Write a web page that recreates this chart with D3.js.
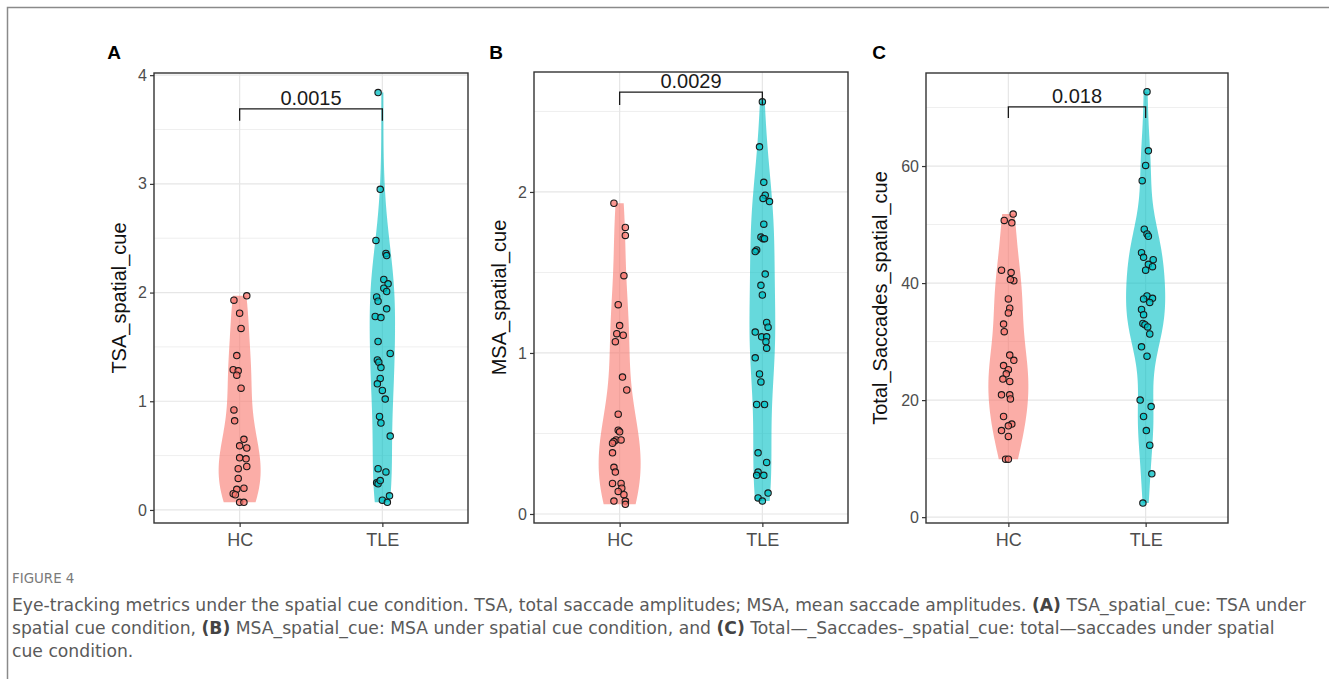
<!DOCTYPE html>
<html>
<head>
<meta charset="utf-8">
<script src="https://cdn.jsdelivr.net/npm/d3@7"></script>
<style>
  body { margin: 0; background: #fff; }
  svg { display: block; }
</style>
</head>
<body>
<div id="fig"></div>
<script>
// values: [value, jitter offset in category steps]
var groups = ["HC", "TLE"];

var tsaHC = [[1.93,-0.04],[1.97,0.05],[1.81,0],[1.67,0.01],[1.42,-0.02],[1.29,-0.045],[1.28,-0.01],[1.24,-0.02],
  [1.12,0.01],[0.92,-0.04],[0.82,-0.035],[0.65,0.03],[0.59,0],[0.57,0.05],[0.48,0],[0.47,0.045],[0.40,0.05],
  [0.38,-0.01],[0.29,-0.01],[0.20,0.03],[0.19,-0.02],[0.15,-0.045],[0.14,-0.03],[0.07,0],[0.07,0.03]];
var tsaTLE = [[3.84,-0.03],[2.95,-0.015],[2.48,-0.045],[2.36,0.025],[2.34,0.03],[2.12,0.01],[2.08,0.04],[2.04,0.01],
  [2.01,0.03],[1.96,-0.04],[1.92,-0.03],[1.85,0.03],[1.78,-0.05],[1.77,-0.01],[1.55,-0.03],[1.44,0.055],[1.38,-0.035],
  [1.36,-0.025],[1.31,-0.01],[1.21,-0.015],[1.16,-0.035],[1.10,0],[1.02,0.02],[0.86,-0.02],[0.80,-0.01],[0.68,0.055],
  [0.38,-0.03],[0.35,0.025],[0.25,-0.04],[0.24,-0.03],[0.27,-0.015],[0.09,0],[0.07,0.035],[0.13,0.05]];

var msaHC = [[1.93,-0.04],[1.78,0.04],[1.73,0.04],[1.48,0.03],[1.30,-0.01],[1.17,0],[1.12,-0.02],[1.11,0.025],
  [1.07,-0.03],[0.85,0.02],[0.77,0.05],[0.62,-0.01],[0.52,-0.01],[0.51,0],[0.46,-0.025],[0.45,-0.04],[0.46,0.01],
  [0.44,-0.05],[0.38,-0.05],[0.29,-0.04],[0.26,-0.03],[0.19,-0.05],[0.19,0.01],[0.16,0.015],[0.14,-0.01],
  [0.12,0.03],[0.08,-0.04],[0.08,0.04],[0.06,0.04]];
var msaTLE = [[2.56,0],[2.28,-0.02],[2.06,0.01],[1.98,0.02],[1.96,0.005],[1.94,0.05],[1.80,0.01],[1.72,-0.01],
  [1.71,0.005],[1.71,0.015],[1.64,-0.04],[1.63,-0.05],[1.49,0.02],[1.42,-0.01],[1.36,0],[1.19,0.03],[1.16,0.04],
  [1.13,-0.05],[1.10,-0.005],[1.10,0.03],[1.07,0.025],[1.03,0.03],[0.97,-0.05],[0.87,-0.02],[0.82,-0.01],
  [0.68,-0.04],[0.68,0.015],[0.38,-0.03],[0.32,0.03],[0.26,-0.03],[0.24,-0.04],[0.24,0.01],[0.13,0.04],
  [0.10,-0.03],[0.08,0]];

var totHC = [[51.8,0.035],[50.7,-0.03],[50.3,0.025],[42.2,-0.05],[41.8,0.02],[40.4,0.04],[40.6,0.015],[37.3,0],
  [35.7,0.01],[34.9,0],[33.0,-0.035],[31.7,-0.03],[27.7,0.01],[26.8,0.04],[25.9,-0.035],[25.2,0],[24.5,-0.015],
  [23.6,-0.04],[23.2,0.01],[20.9,-0.05],[20.9,0.01],[20.2,0.015],[17.2,-0.035],[15.9,0.025],[15.6,0],
  [14.8,-0.05],[13.8,0],[9.9,-0.02],[9.9,0]];
var totTLE = [[72.7,0.01],[62.6,0.02],[60.1,0],[57.5,-0.025],[49.2,-0.01],[48.4,0.01],[48.0,0.02],[45.2,-0.03],
  [44.4,-0.015],[44.0,0.055],[43.2,0.02],[42.8,0.05],[42.2,0],[37.8,0.01],[37.3,-0.015],[37.4,0.05],[36.7,0.03],
  [35.5,-0.03],[34.6,-0.015],[33.1,-0.02],[32.9,-0.005],[32.5,0.015],[31.3,0.03],[29.1,-0.03],[27.5,0.01],
  [20.0,-0.04],[18.9,0.04],[17.2,-0.015],[14.8,0.005],[12.3,0.03],[7.4,0.045],[2.4,-0.02]];

var panelLetters = ["A", "B", "C"];
var yTitles = ["TSA_spatial_cue", "MSA_spatial_cue", "Total_Saccades_spatial_cue"];
var pValues = ["0.0015", "0.0029", "0.018"];
var yDomains = [[-0.12, 4.02], [-0.056, 2.745], [-1.0, 75.9]];
var majorTicks = [[0, 1, 2, 3, 4], [0, 1, 2], [0, 20, 40, 60]];
var minorTicks = [[0.5, 1.5, 2.5, 3.5], [0.5, 1.5, 2.5], [10, 30, 50, 70]];
var bracketY = [[3.69, 3.58], [2.62, 2.54], [70.1, 68.2]];

var colors = { HC: "#F8766D", TLE: "#00BFC4" };

// layout
var W = 1329, H = 679;
var boxes = [
  { x0: 154, x1: 468, y0: 73, y1: 523, maxHalf: 21, titleX: 119, letterX: 114 },
  { x0: 534, x1: 848, y0: 72, y1: 523, maxHalf: 21, titleX: 499, letterX: 496 },
  { x0: 926, x1: 1228, y0: 73, y1: 523, maxHalf: 20, titleX: 880, letterX: 879 }
];
var panelData = [[tsaHC, tsaTLE], [msaHC, msaTLE], [totHC, totTLE]];

var svg = d3.select("#fig").append("svg")
  .attr("width", W).attr("height", H);

// outer frame (top + left only visible)
svg.append("path")
  .attr("d", "M7.5,679 L7.5,7.5 L1329,7.5")
  .attr("fill", "none").attr("stroke", "#8a8a8a").attr("stroke-width", 1.5);

// gaussian kde, bandwidth nrd0, trimmed to data range
function kde(values) {
  var v = values.slice().sort(d3.ascending);
  var n = v.length;
  var sd = d3.deviation(v);
  var iqr = d3.quantile(v, 0.75) - d3.quantile(v, 0.25);
  var bw = 0.9 * Math.min(sd, iqr / 1.34) * Math.pow(n, -0.2);
  var lo = v[0], hi = v[n - 1];
  var out = [];
  for (var i = 0; i <= 200; i++) {
    var t = lo + (hi - lo) * i / 200;
    var s = 0;
    for (var j = 0; j < n; j++) {
      var z = (t - v[j]) / bw;
      s += Math.exp(-0.5 * z * z);
    }
    out.push([t, s / (n * bw * Math.sqrt(2 * Math.PI))]);
  }
  return out;
}

boxes.forEach(function (b, p) {
  var g = svg.append("g");

  var x = d3.scalePoint().domain(groups).range([b.x0, b.x1]).padding(0.6);
  var y = d3.scaleLinear().domain(yDomains[p]).range([b.y1, b.y0]);

  // grid
  g.selectAll(".minor").data(minorTicks[p]).enter().append("line")
    .attr("x1", b.x0).attr("x2", b.x1)
    .attr("y1", d => y(d)).attr("y2", d => y(d))
    .attr("stroke", "#efefef").attr("stroke-width", 1);
  g.selectAll(".major").data(majorTicks[p]).enter().append("line")
    .attr("x1", b.x0).attr("x2", b.x1)
    .attr("y1", d => y(d)).attr("y2", d => y(d))
    .attr("stroke", "#e6e6e6").attr("stroke-width", 1.2);
  g.selectAll(".vgrid").data(groups).enter().append("line")
    .attr("x1", d => x(d)).attr("x2", d => x(d))
    .attr("y1", b.y0).attr("y2", b.y1)
    .attr("stroke", "#e6e6e6").attr("stroke-width", 1.2);

  // violins, same area scaling within panel
  var dens = panelData[p].map(function (pts) { return kde(pts.map(d => d[0])); });
  var dmax = d3.max(dens, d => d3.max(d, e => e[1]));
  var wScale = b.maxHalf / dmax;
  dens.forEach(function (dd, gi) {
    var cx = x(groups[gi]);
    var area = d3.area()
      .y(d => y(d[0]))
      .x0(d => cx - d[1] * wScale)
      .x1(d => cx + d[1] * wScale);
    g.append("path").datum(dd)
      .attr("d", area)
      .attr("fill", colors[groups[gi]])
      .attr("fill-opacity", 0.6);
  });

  // jittered points
  panelData[p].forEach(function (pts, gi) {
    g.selectAll(".pt" + gi).data(pts).enter().append("circle")
      .attr("cx", d => x(groups[gi]) + d[1] * x.step())
      .attr("cy", d => y(d[0]))
      .attr("r", 3.2)
      .attr("fill", colors[groups[gi]])
      .attr("fill-opacity", 0.75)
      .attr("stroke", "#1a1a1a")
      .attr("stroke-width", 1.1);
  });

  // significance bracket
  var by = bracketY[p];
  g.append("path")
    .attr("d", "M" + x("HC") + "," + y(by[1]) + " L" + x("HC") + "," + y(by[0]) +
      " L" + x("TLE") + "," + y(by[0]) + " L" + x("TLE") + "," + y(by[1]))
    .attr("fill", "none").attr("stroke", "#1a1a1a").attr("stroke-width", 1.3);
  g.append("text")
    .attr("x", (x("HC") + x("TLE")) / 2)
    .attr("y", y(by[0]) - 4)
    .attr("text-anchor", "middle")
    .style("font-family", "Liberation Sans, Arial, sans-serif")
    .style("font-size", "20px")
    .attr("fill", "#1a1a1a")
    .text(pValues[p]);

  // panel border
  g.append("rect")
    .attr("x", b.x0).attr("y", b.y0)
    .attr("width", b.x1 - b.x0).attr("height", b.y1 - b.y0)
    .attr("fill", "none").attr("stroke", "#333").attr("stroke-width", 1.4);

  // axes
  var ya = g.append("g").attr("transform", "translate(" + b.x0 + ",0)")
    .call(d3.axisLeft(y).tickValues(majorTicks[p]).tickSize(4).tickPadding(3).tickFormat(d3.format("d")));
  var xa = g.append("g").attr("transform", "translate(0," + b.y1 + ")")
    .call(d3.axisBottom(x).tickSize(4).tickPadding(6));
  [ya, xa].forEach(function (a) {
    a.select(".domain").remove();
    a.selectAll("line").attr("stroke", "#333").attr("stroke-width", 1.2);
    a.selectAll("text")
      .style("font-family", "Liberation Sans, Arial, sans-serif")
      .attr("fill", "#4d4d4d");
  });
  ya.selectAll("text").style("font-size", "16px");
  xa.selectAll("text").style("font-size", "18px");

  // y title
  g.append("text")
    .attr("transform", "translate(" + b.titleX + "," + ((b.y0 + b.y1) / 2) + ") rotate(-90)")
    .attr("text-anchor", "middle")
    .attr("dy", "0.35em")
    .style("font-family", "Liberation Sans, Arial, sans-serif")
    .style("font-size", "20px")
    .attr("fill", "#111")
    .text(yTitles[p]);

  // panel letter
  g.append("text")
    .attr("x", b.letterX).attr("y", 59)
    .attr("text-anchor", "middle")
    .style("font-family", "Liberation Sans, Arial, sans-serif")
    .style("font-size", "19px").style("font-weight", "bold")
    .attr("fill", "#000")
    .text(panelLetters[p]);
});

// caption
var capFont = "'DejaVu Sans', sans-serif";
svg.append("text")
  .attr("x", 12).attr("y", 583)
  .style("font-family", capFont).style("font-size", "13.4px")
  .attr("fill", "#7a7a7a")
  .text("FIGURE 4");

var captionLines = [
  [["Eye-tracking metrics under the spatial cue condition. TSA, total saccade amplitudes; MSA, mean saccade amplitudes. ", 0],
   ["(A)", 1], [" TSA_spatial_cue: TSA under", 0]],
  [["spatial cue condition, ", 0], ["(B)", 1], [" MSA_spatial_cue: MSA under spatial cue condition, and ", 0],
   ["(C)", 1], [" Total\u2014_Saccades-_spatial_cue: total\u2014saccades under spatial", 0]],
  [["cue condition.", 0]]
];
captionLines.forEach(function (line, i) {
  var t = svg.append("text")
    .attr("x", 12).attr("y", 611 + i * 23)
    .style("font-family", capFont).style("font-size", "17.2px")
    .attr("fill", "#5a5a5a");
  line.forEach(function (seg) {
    t.append("tspan")
      .style("font-weight", seg[1] ? "bold" : "normal")
      .attr("fill", seg[1] ? "#444" : "#5a5a5a")
      .text(seg[0]);
  });
});
</script>
</body>
</html>
